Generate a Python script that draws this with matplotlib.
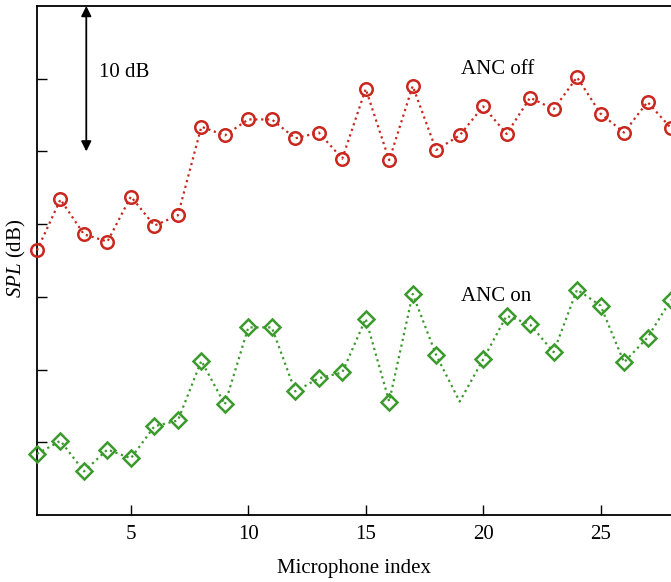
import matplotlib
matplotlib.use("Agg")
import matplotlib.pyplot as plt
import numpy as np

plt.rcParams['font.family'] = ['Liberation Serif', 'DejaVu Serif']
plt.rcParams['mathtext.fontset'] = 'custom'
plt.rcParams['mathtext.it'] = 'Liberation Serif:italic'
plt.rcParams['mathtext.rm'] = 'Liberation Serif'

mic = list(range(1, 29))
anc_off = [78.2, 81.7, 79.3, 78.8, 81.9, 79.9, 80.6, 86.7, 86.1, 87.2,
           87.2, 85.9, 86.3, 84.5, 89.3, 84.4, 89.5, 85.1, 86.1, 88.1,
           86.2, 88.7, 87.9, 90.1, 87.6, 86.3, 88.4, 86.6]
anc_on = [64.2, 65.1, 63.0, 64.5, 63.9, 66.1, 66.5, 70.6, 67.6, 72.9,
          72.9, 68.5, 69.4, 69.8, 73.5, 67.8, 75.2, 71.0, 67.8, 70.7,
          73.7, 73.1, 71.2, 75.5, 74.4, 70.5, 72.2, 74.8]
on_marked = [i for i in range(len(mic)) if mic[i] != 19]
x_ticks = [5, 10, 15, 20, 25]
y_ticks = [65, 70, 75, 80, 85, 90]

red = '#c8281e'
green = '#3b9a2c'
fs = 15

fig = plt.figure(figsize=(6.71, 5.82), dpi=100)
ax = fig.add_axes([0.0551, 0.1151, 0.9449, 0.8746])

ax.plot(mic, anc_off, linestyle=':', color=red, lw=1.6, marker='o',
        markersize=9, markerfacecolor='none', markeredgecolor=red,
        markeredgewidth=1.8, clip_on=False, zorder=3)
ax.plot(mic, anc_on, linestyle=':', color=green, lw=1.6, marker='D',
        markersize=8, markerfacecolor='none', markeredgecolor=green,
        markeredgewidth=1.8, markevery=on_marked, clip_on=False, zorder=3)

ax.set_xlim(1, 28)
ax.set_ylim(60, 95)
ax.set_xticks(x_ticks)
ax.set_yticks(y_ticks)
ax.set_yticklabels([])
ax.tick_params(direction='in', length=7, width=1.0, labelsize=fs, pad=7)
ax.tick_params(axis='y', which='both', right=False)
ax.spines['right'].set_visible(False)
for s in ['left', 'bottom', 'top']:
    ax.spines[s].set_linewidth(1.3)

fig.text(354 / 671, 1 - 568 / 582, 'Microphone index', fontsize=fs,
         ha='center', va='center')
fig.text(16 / 671, 1 - 258 / 582, r'$\mathit{SPL}$ (dB)', fontsize=fs,
         rotation=90, ha='center', va='center')

ax.annotate('', xy=(3.1, 85.0), xytext=(3.1, 95.0),
            arrowprops=dict(arrowstyle='<|-|>', color='black', lw=1.3,
                            mutation_scale=15, shrinkA=0, shrinkB=0))
ax.text(3.64, 90.4, '10 dB', fontsize=fs, va='center', ha='left')
ax.text(19.05, 90.6, 'ANC off', fontsize=fs, va='center', ha='left')
ax.text(19.05, 75.0, 'ANC on', fontsize=fs, va='center', ha='left')

fig.savefig('out.png', dpi=100)
